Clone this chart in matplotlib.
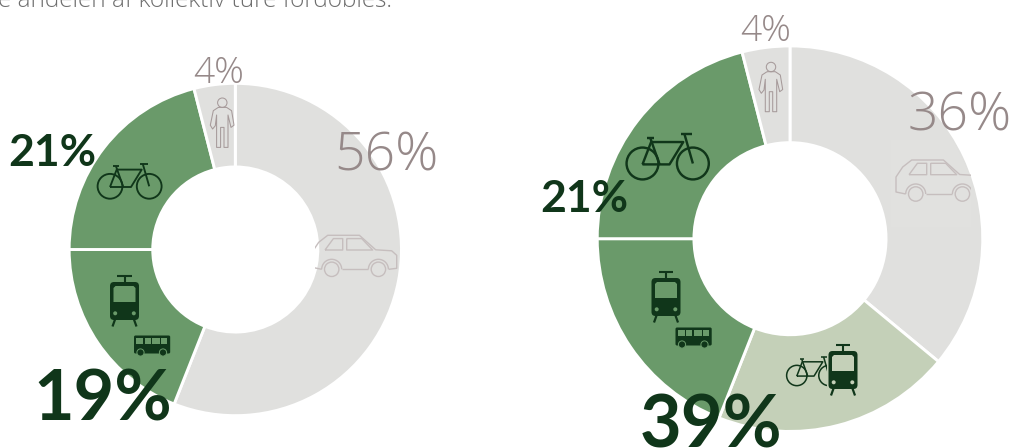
import matplotlib
matplotlib.use("Agg")
import matplotlib.pyplot as plt
from matplotlib.patches import Circle, FancyBboxPatch, Polygon, Rectangle, Arc

# Modal split before and after, percent of trips
modes_today = ["Bil", "Kollektiv", "Cykel", "Gang"]
share_today = [56, 19, 21, 4]
modes_future = ["Bil", "Kombination", "Kollektiv", "Cykel", "Gang"]
share_future = [36, 20, 19, 21, 4]
intro_line = "e andelen af kollektiv ture fordobles."

GREY = "#E0E0DE"
GREEN = "#6A9A6A"
PALE = "#C4D0B8"
DARK = "#10361A"
MUTED = "#968989"
OUTLINE = "#C6BEBE"
colors_today = [GREY, GREEN, GREEN, GREY]
colors_future = [GREY, PALE, GREEN, GREEN, GREY]

W, H = 1011, 448
fig = plt.figure(figsize=(W / 100, H / 100), dpi=100)
ax = fig.add_axes([0, 0, 1, 1])
EDGE = 2.1
PAD = EDGE * 100 / 72 / 2


def donut(values, colors, cx, cy, r_out, r_in):
    ax.pie(values, colors=colors, startangle=90, counterclock=False,
           center=(cx, H - cy), radius=r_out + PAD,
           wedgeprops=dict(width=r_out - r_in + 2 * PAD, edgecolor="white", linewidth=EDGE))


donut(share_today, colors_today, 235.3, 249.5, 164.7, 84)
donut(share_future, colors_future, 790, 238.7, 191.3, 97.5)
ax.set_xlim(0, W)
ax.set_ylim(0, H)
ax.set_aspect("equal")
ax.set_axis_off()


def pts(x, y, local, s=1.0):
    return [(x + s * a, H - (y + s * b)) for a, b in local]


def line(x, y, local, s, color, lw, z=5, clip=None):
    p = pts(x, y, local, s)
    art, = ax.plot(*zip(*p), color=color, lw=lw, solid_capstyle="butt",
                   solid_joinstyle="round", zorder=z)
    if clip is not None:
        art.set_clip_path(clip)
    return art


def bike(x, y, s=1.0, color=DARK, clip=None):
    lw = 1.35 * s
    for cx in (0, 39.2):
        c = Circle((x + s * cx, H - y), 12.4 * s, fill=False, ec=color, lw=lw, zorder=5)
        ax.add_patch(c)
        if clip is not None:
            c.set_clip_path(clip)
    strokes = [
        [(6, -20), (13.3, 0.7)],
        [(0, 0.7), (21, 0.7), (31.7, -16.7), (6.7, -16.7), (0, 0.7)],
        [(32.7, -22.7), (39.2, 0)],
        [(30, -22.7), (38.3, -22.7)],
        [(3.3, -20), (9.3, -20)],
    ]
    for st in strokes:
        line(x, y, st, s, color, lw, clip=clip)


def person(x, y, s=1.0):
    head = Circle((x, H - y), 4.7 * s, fill=False, ec="#A69A9A", lw=0.75, zorder=5)
    ax.add_patch(head)
    body = [(-4, 4.7), (-9, 8), (-12, 22.5), (-9.7, 26.3), (-7, 23), (-5.7, 12.3),
            (-5.7, 44.7), (-1.7, 44.7), (-1.7, 24.7), (1.7, 24.7), (1.7, 44.7),
            (5.7, 44.7), (5.7, 12.3), (8.7, 24.7), (11.7, 22.5), (9.3, 8), (4.3, 4.7), (-4, 4.7)]
    line(x, y, body, s, "#A69A9A", 0.75)


def tram(x, y, window):
    # x is the centre line, y the top of the body
    line(x, y, [(-7.3, -6), (7.3, -6)], 1, DARK, 1.5, z=6)
    line(x, y, [(0, -6), (0, 0.5)], 1, DARK, 1.5, z=6)
    ax.add_patch(FancyBboxPatch((x - 12.5, H - (y + 36)), 25, 34,
                                boxstyle="round,pad=2,rounding_size=4", fc=DARK, ec="none", zorder=5))
    ax.add_patch(Polygon(pts(x, y, [(-11, 20), (-11, 6), (-9, 4), (9, 4), (11, 6), (11, 20)]),
                         fc=window, ec="none", zorder=6))
    for dx in (-9.3, 9.3):
        ax.add_patch(Circle((x + dx, H - (y + 31.3)), 2, fc=window, ec="none", zorder=6))
    line(x, y, [(-9.3, 37), (-12, 44.5)], 1, DARK, 1.6)
    line(x, y, [(9.3, 37), (12, 44.5)], 1, DARK, 1.6)


def bus(x, y, window):
    # x, y is the top left corner of the body
    ax.add_patch(FancyBboxPatch((x + 0.8, H - (y + 17.2)), 34.6, 16.4,
                                boxstyle="round,pad=0.8,rounding_size=1.5", fc=DARK, ec="none", zorder=5))
    panes = [(2.2, 9.2), (10.7, 16.7), (18.3, 26), (27.3, 33)]
    for a, b in panes:
        ax.add_patch(Rectangle((x + a, H - (y + 8.8)), b - a, 6.3, fc=window, ec="none", zorder=6))
    for dx in (6.5, 29):
        ax.add_patch(Circle((x + dx, H - (y + 17)), 3.6, fc=DARK, ec=window, lw=0.7, zorder=6))


def car(x, y, clip_box):
    lw = 1.0
    clip = Rectangle((clip_box[0], H - clip_box[3]), clip_box[2] - clip_box[0],
                     clip_box[3] - clip_box[1], transform=ax.transData)
    hull = [(-10, 0), (-19.7, -2), (-19.7, -17), (-13, -27), (-4, -34), (27.7, -34),
            (44, -19.5), (60, -18.5), (65, -14), (65, -1), (57, 0)]
    line(x, y, hull, 1, OUTLINE, lw, clip=clip)
    line(x, y, [(10, 0), (36.7, 0)], 1, OUTLINE, lw, clip=clip)
    line(x, y, [(-6.7, -19.3), (1.7, -30.7), (11, -30.7), (11, -19.3), (-6.7, -19.3)], 1, OUTLINE, lw, clip=clip)
    line(x, y, [(15, -30.7), (30, -30.7), (41, -19.3), (15, -19.3), (15, -30.7)], 1, OUTLINE, lw, clip=clip)
    for dx in (0, 46.7):
        wheel = Circle((x + dx, H - y), 7.2, fill=False, ec=OUTLINE, lw=lw, zorder=5)
        arch = Arc((x + dx, H - y), 20, 20, theta1=0, theta2=180, ec=OUTLINE, lw=lw, zorder=5)
        ax.add_patch(wheel)
        ax.add_patch(arch)
        wheel.set_clip_path(clip)
        arch.set_clip_path(clip)


# Faint backing panel behind the car symbol on the right, kept inside the ring
panel = Rectangle((891, H - 227), 79.7, 87, fc="#E1E1DF", ec="none", zorder=3)
ax.add_patch(panel)
panel.set_clip_path(Circle((790, H - 238.7), 190.3, transform=ax.transData))

bike(110, 186.3)
person(222.3, 102.7)
tram(124.5, 282, GREEN)
bus(134, 335.5, GREEN)
car(331.7, 269.3, (315, 228, 398, 300))

bike(642.5, 163.5, 1.285)
person(771, 67)
tram(666, 278, GREEN)
bus(675.5, 327.5, GREEN)
car(915.7, 194, (891, 140, 970.7, 227))
tram(843, 351, PALE)
clip_small = Rectangle((780, H - 400), 47, 60, transform=ax.transData)
bike(796.8, 375.5, 0.82, clip=clip_small)

LIGHT = dict(family="Open Sans", weight="light", color=MUTED, zorder=8, va="baseline", ha="left")
HEAVY = dict(family="Lato", weight="bold", color=DARK, zorder=8, va="baseline", ha="left")


def label(x, y, size_px, value, style):
    ax.text(x, H - y, f"{value}%", fontsize=size_px * 0.72, **style)


label(334, 170, 53.5, share_today[0], LIGHT)
label(193, 83, 37, share_today[3], LIGHT)
label(8.5, 165.5, 44.5, share_today[2], HEAVY)
label(33, 420, 70, share_today[1], HEAVY)

label(740, 41, 37, share_future[-1], LIGHT)
label(908, 130, 53.5, share_future[0], LIGHT)
label(540, 212, 44.5, share_future[3], HEAVY)
label(640, 447, 72, share_future[1] + share_future[2], HEAVY)

ax.text(-2, H - 7, intro_line, family="Open Sans", weight="light", fontsize=17.6,
        color="#6E6E6E", va="baseline", ha="left", zorder=8)

fig.savefig("out.png", dpi=100)
